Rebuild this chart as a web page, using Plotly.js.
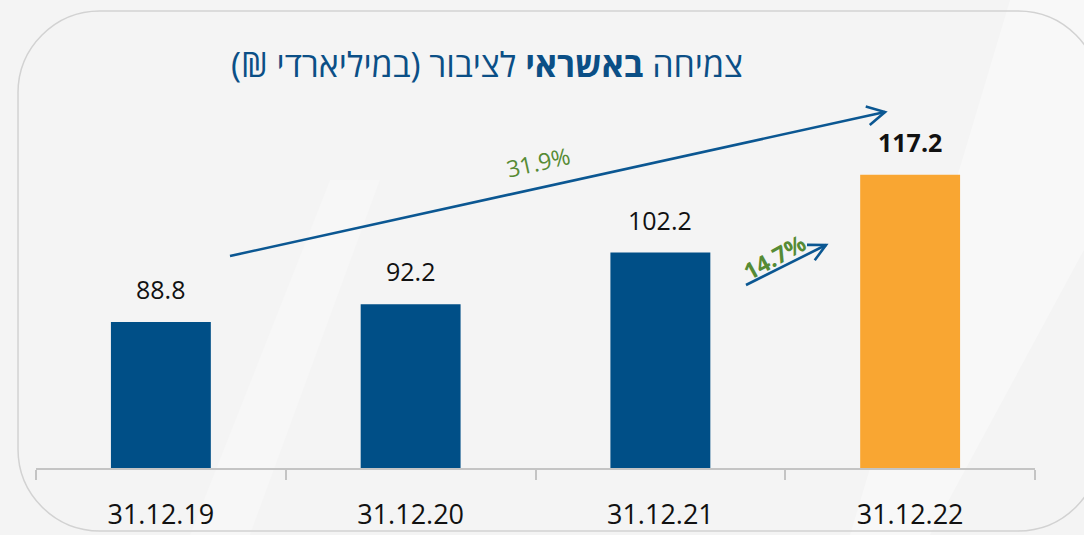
<!DOCTYPE html>
<html>
<head>
<meta charset="utf-8">
<script src="https://cdn.plot.ly/plotly-3.0.1.min.js"></script>
<style>html,body{margin:0;padding:0;background:#f4f4f4;}#chart{width:1084px;height:535px;}</style>
</head>
<body>
<div id="chart"></div>
<script>
// ---- data ----
const categories = ['31.12.19', '31.12.20', '31.12.21', '31.12.22'];
const values = [88.8, 92.2, 102.2, 117.2];
const highlightIndex = 3;
const growthTotal = '31.9%';
const growthLast = '14.7%';
const titleText = 'צמיחה <b>באשראי</b> לציבור (במיליארדי ₪)';

// ---- layout constants ----
const W = 1084, H = 535;
const M = {l: 36, r: 49, t: 40, b: 67};
const plotW = W - M.l - M.r, plotH = H - M.t - M.b;
const yMin = 60.6, pxPerUnit = 5.18;
const yMax = yMin + plotH / pxPerUnit;

const BLUE = '#004f87', ORANGE = '#f9a632', GREEN = '#568b34', ARROW = '#0b5792';

// pixel -> paper helpers
const px = x => (x - M.l) / plotW;
const py = y => (H - M.b - y) / plotH;
const P = (x, y) => px(x).toFixed(5) + ',' + py(y).toFixed(5);

function roundedRect(x0, y0, x1, y1, r) {
  const k = 0.5523 * r;
  return 'M' + P(x0 + r, y0) + ' L' + P(x1 - r, y0) +
    ' C' + P(x1 - r + k, y0) + ' ' + P(x1, y0 + r - k) + ' ' + P(x1, y0 + r) +
    ' L' + P(x1, y1 - r) +
    ' C' + P(x1, y1 - r + k) + ' ' + P(x1 - r + k, y1) + ' ' + P(x1 - r, y1) +
    ' L' + P(x0 + r, y1) +
    ' C' + P(x0 + r - k, y1) + ' ' + P(x0, y1 - r + k) + ' ' + P(x0, y1 - r) +
    ' L' + P(x0, y0 + r) +
    ' C' + P(x0, y0 + r - k) + ' ' + P(x0 + r - k, y0) + ' ' + P(x0 + r, y0) + ' Z';
}

function arrowPaths(x0, y0, x1, y1, len, ang) {
  const back = Math.atan2(y0 - y1, x0 - x1);
  const a = ang * Math.PI / 180;
  const h1 = [x1 + len * Math.cos(back + a), y1 + len * Math.sin(back + a)];
  const h2 = [x1 + len * Math.cos(back - a), y1 + len * Math.sin(back - a)];
  return [
    'M' + P(x0, y0) + ' L' + P(x1, y1),
    'M' + P(h1[0], h1[1]) + ' L' + P(x1, y1) + ' L' + P(h2[0], h2[1])
  ];
}

const shapes = [];
// background light diagonal bands
shapes.push({type: 'path', xref: 'paper', yref: 'paper', layer: 'below', line: {width: 0},
  fillcolor: 'rgba(255,255,255,0.35)',
  path: 'M' + P(1010, 0) + ' L' + P(1084, 0) + ' L' + P(1084, 250) + ' L' + P(930, 535) + ' L' + P(850, 535) + ' Z'});
shapes.push({type: 'path', xref: 'paper', yref: 'paper', layer: 'below', line: {width: 0},
  fillcolor: 'rgba(255,255,255,0.25)',
  path: 'M' + P(330, 180) + ' L' + P(380, 180) + ' L' + P(250, 535) + ' L' + P(190, 535) + ' Z'});
// rounded frame
shapes.push({type: 'path', xref: 'paper', yref: 'paper', layer: 'below',
  line: {color: '#d2d2d2', width: 1.5}, fillcolor: 'rgba(0,0,0,0)',
  path: roundedRect(18, 11, 1100, 531, 82)});
// arrows
arrowPaths(230, 256, 885, 112, 20, 28).forEach(p => shapes.push({type: 'path', xref: 'paper', yref: 'paper',
  line: {color: ARROW, width: 2.6}, path: p}));
arrowPaths(746, 285, 826, 245, 19, 27).forEach(p => shapes.push({type: 'path', xref: 'paper', yref: 'paper',
  line: {color: ARROW, width: 2.6}, path: p}));

const FONT = '"Open Sans", "Noto Sans", Lato, sans-serif';

const annotations = categories.map((c, i) => ({
  x: c, y: values[i], xref: 'x', yref: 'y', showarrow: false,
  xanchor: 'center', yanchor: 'bottom', yshift: 14,
  text: i === highlightIndex ? '<b>' + values[i].toFixed(1) + '</b>' : values[i].toFixed(1),
  font: {family: FONT, size: 25, color: '#111111'}
}));
annotations.push({xref: 'paper', yref: 'paper', x: px(538), y: py(162), xanchor: 'center', yanchor: 'middle',
  showarrow: false, text: growthTotal, textangle: -12.5, font: {family: FONT, size: 23, color: GREEN}});
annotations.push({xref: 'paper', yref: 'paper', x: px(774), y: py(257), xanchor: 'center', yanchor: 'middle',
  showarrow: false, text: '<b>' + growthLast + '</b>', textangle: -29, font: {family: FONT, size: 23, color: GREEN}});

const data = [{
  type: 'bar', x: categories, y: values,
  marker: {color: values.map((v, i) => i === highlightIndex ? ORANGE : BLUE)},
  hoverinfo: 'x+y'
}];

const layout = {
  width: W, height: H,
  margin: M,
  paper_bgcolor: '#f4f4f4', plot_bgcolor: 'rgba(0,0,0,0)',
  bargap: 0.6,
  showlegend: false,
  title: {
    text: '\u202B' + titleText + '\u202C',
    x: px(487), xref: 'paper', xanchor: 'center',
    y: 1 - 65 / H, yref: 'container', yanchor: 'middle',
    font: {family: '"Open Sans", "Noto Sans Hebrew", "Liberation Sans", "DejaVu Sans", sans-serif', size: 34, color: '#0b4f86'}
  },
  xaxis: {
    type: 'category', range: [-0.5, 3.5], fixedrange: true,
    showline: true, linecolor: '#c4c4c4', linewidth: 2,
    ticks: 'outside', tickson: 'boundaries', ticklen: 10, tickwidth: 2, tickcolor: '#c4c4c4',
    showgrid: false, zeroline: false,
    tickfont: {family: FONT, size: 27, color: '#111111'},
    ticklabelstandoff: 22
  },
  yaxis: {
    range: [yMin, yMax], visible: false, showgrid: false, zeroline: false, fixedrange: true
  },
  shapes: shapes,
  annotations: annotations
};

Plotly.newPlot('chart', data, layout, {displayModeBar: false, staticPlot: true});
</script>
</body>
</html>
